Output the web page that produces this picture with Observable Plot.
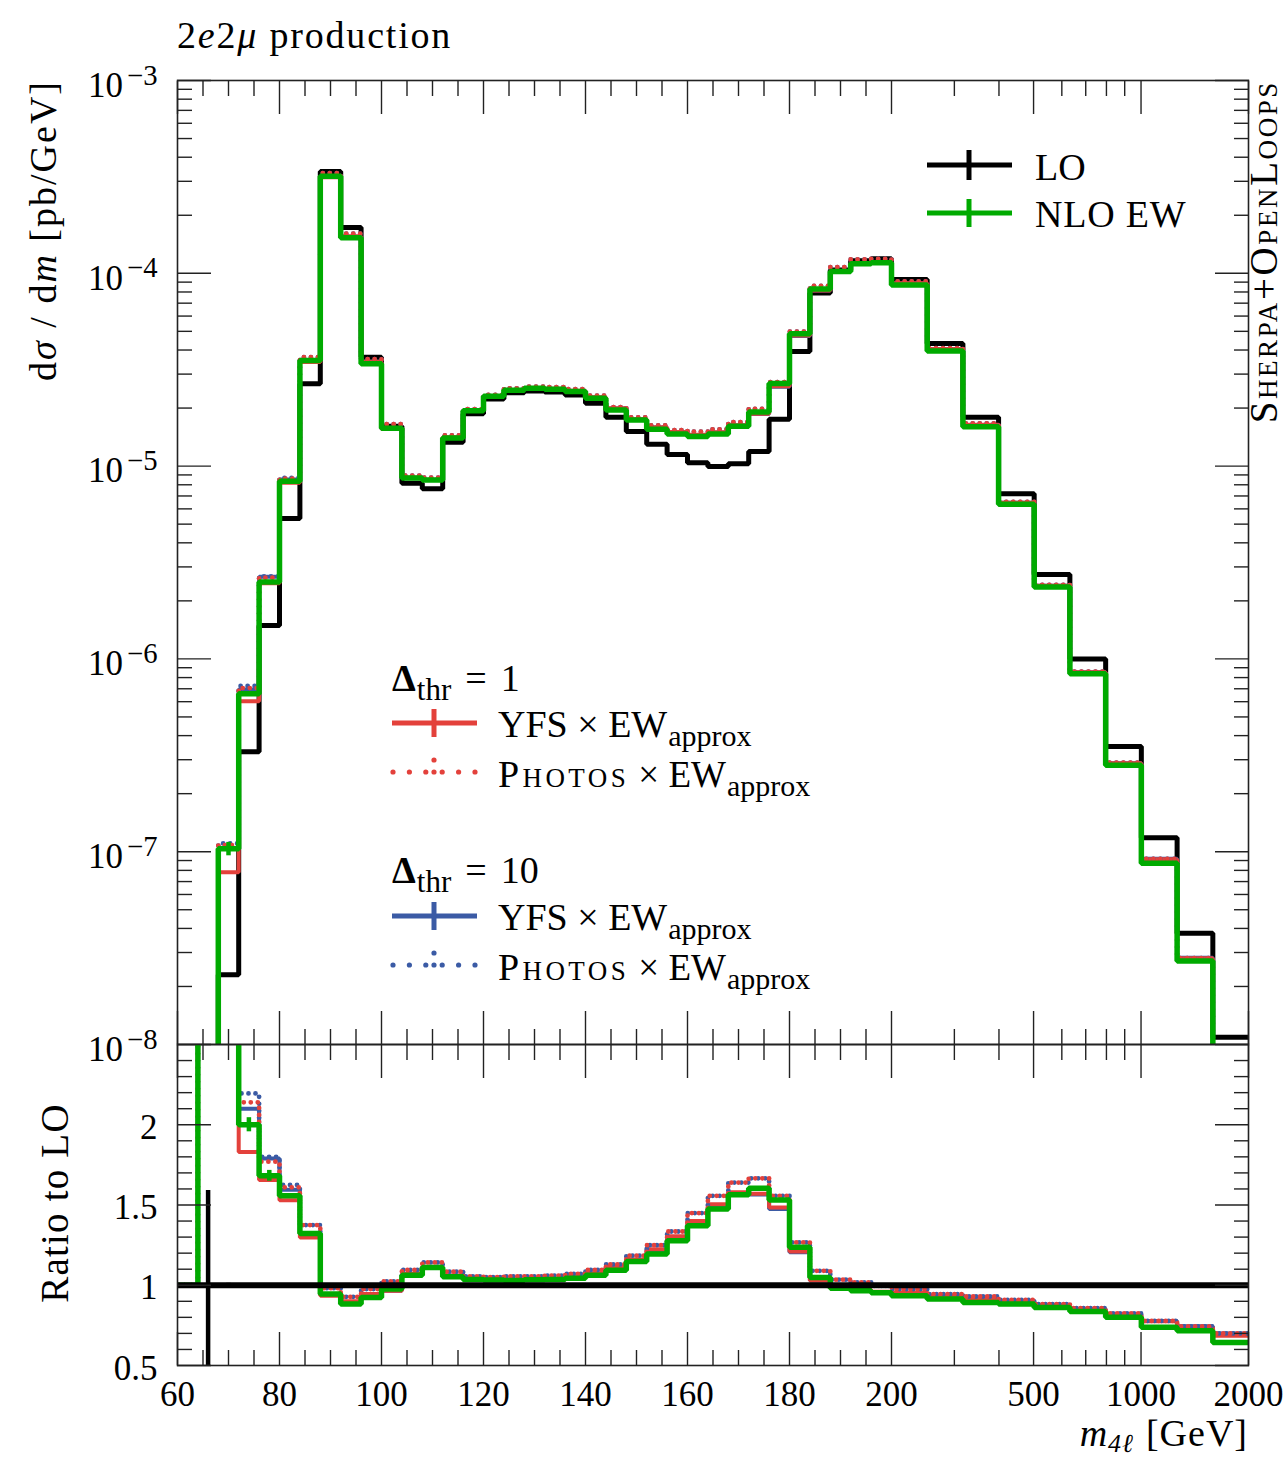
<!DOCTYPE html>
<html><head><meta charset="utf-8">
<script src="https://cdn.jsdelivr.net/npm/d3@7"></script>
<script src="https://cdn.jsdelivr.net/npm/@observablehq/plot@0.6"></script>
<style>
body{margin:0;background:#fff;}
#wrap{position:relative;width:1286px;height:1461px;font-family:"Liberation Serif",serif;color:#000;overflow:hidden;}
#wrap svg.pnl{position:absolute;left:0;}
#overlay{position:absolute;left:0;top:0;pointer-events:none;}
</style></head><body><div id="wrap"></div>
<script>
// ---------- data ----------
const binEdges = [60,64,68,72,76,80,84,88,92,96,100,104,108,112,116,120,124,128,132,136,140,144,148,152,156,160,164,168,172,176,180,184,188,192,196,200,251.8,317,399,502,632,796,1002,1262,1589,2000];
// LO dsigma/dm [pb/GeV] per bin
const loValues = [null,2e-9,2.3e-8,3.3e-7,1.49e-6,5.35e-6,2.67e-5,3.37e-4,1.73e-4,3.67e-5,1.61e-5,8.15e-6,7.62e-6,1.33e-5,1.87e-5,2.23e-5,2.40e-5,2.45e-5,2.42e-5,2.34e-5,2.12e-5,1.79e-5,1.51e-5,1.30e-5,1.15e-5,1.04e-5,9.96e-6,1.03e-5,1.19e-5,1.75e-5,3.93e-5,7.9e-5,1.04e-4,1.16e-4,1.19e-4,9.29e-5,4.33e-5,1.79e-5,7.18e-6,2.74e-6,1.0e-6,3.51e-7,1.18e-7,3.78e-8,1.09e-8];
// ratios to LO
const nloRatio = [1,4.0,4.5,2.0,1.682,1.558,1.323,0.945,0.883,0.924,0.976,1.063,1.111,1.053,1.036,1.032,1.030,1.034,1.036,1.043,1.062,1.093,1.148,1.194,1.277,1.371,1.475,1.564,1.605,1.531,1.236,1.049,0.982,0.966,0.954,0.935,0.914,0.893,0.883,0.862,0.837,0.80,0.738,0.717,0.644];
const yfs1Ratio = [1,3.5,3.4,1.83,1.655,1.53,1.298,0.935,0.90,0.945,0.966,1.07,1.115,1.06,1.04,1.035,1.035,1.038,1.04,1.05,1.075,1.115,1.16,1.225,1.305,1.40,1.505,1.58,1.57,1.485,1.21,1.03,0.985,0.972,0.96,0.955,0.935,0.915,0.90,0.875,0.852,0.82,0.775,0.74,0.685];
const photos1Ratio = [1,4.0,4.7,2.14,1.77,1.61,1.375,0.982,0.928,0.976,1.024,1.095,1.142,1.084,1.055,1.05,1.055,1.055,1.06,1.07,1.095,1.13,1.184,1.25,1.335,1.45,1.557,1.64,1.666,1.557,1.267,1.09,1.035,1.018,0.997,0.976,0.945,0.93,0.908,0.883,0.858,0.824,0.778,0.743,0.70];
const yfs10Ratio = [1,4.0,4.5,2.10,1.79,1.595,1.32,0.94,0.895,0.94,0.966,1.065,1.11,1.055,1.038,1.033,1.032,1.035,1.038,1.047,1.07,1.11,1.155,1.22,1.30,1.395,1.50,1.575,1.566,1.475,1.205,1.03,0.984,0.97,0.958,0.952,0.932,0.912,0.898,0.874,0.852,0.82,0.778,0.745,0.70];
const photos10Ratio = [1,4.0,4.8,2.195,1.80,1.625,1.375,0.982,0.928,0.976,1.024,1.095,1.142,1.084,1.055,1.05,1.055,1.055,1.06,1.07,1.095,1.13,1.184,1.25,1.335,1.45,1.557,1.64,1.666,1.557,1.267,1.09,1.035,1.018,0.997,0.976,0.945,0.93,0.908,0.883,0.858,0.824,0.778,0.743,0.70];
// relative statistical uncertainties
const loRelErr  = [0,0.59,0.012,0,0,0,0,0,0,0,0,0,0,0,0,0,0,0,0,0,0,0,0,0,0,0,0,0,0,0,0,0,0,0,0,0,0,0,0,0,0,0,0,0,0];
const nloRelErr = [0,0,0.08,0.022,0.02,0,0,0,0,0,0,0,0,0,0,0,0,0,0,0,0,0,0,0,0,0,0,0,0,0,0,0,0,0,0,0,0,0,0,0,0,0,0,0,0];
// axis ticks
const xMajorTicks = [60,80,100,120,140,160,180,200,500,1000,2000];
const xTickLabels = ["60","80","100","120","140","160","180","200","500","1000","2000"];
const xMinorTicks = [65,70,75,85,90,95,105,110,115,125,130,135,145,150,155,165,170,175,185,190,195,300,400,600,700,800,900];
const yMainMajor = [1e-8,1e-7,1e-6,1e-5,1e-4,1e-3];
const yMainLabels = ["10^−8","10^−7","10^−6","10^−5","10^−4","10^−3"];
const yMainMinor = [2e-8,3e-8,4e-8,5e-8,6e-8,7e-8,8e-8,9e-8,2e-7,3e-7,4e-7,5e-7,6e-7,7e-7,8e-7,9e-7,2e-6,3e-6,4e-6,5e-6,6e-6,7e-6,8e-6,9e-6,2e-5,3e-5,4e-5,5e-5,6e-5,7e-5,8e-5,9e-5,2e-4,3e-4,4e-4,5e-4,6e-4,7e-4,8e-4,9e-4];
const yRatioMajor = [0.5,1,1.5,2];
const yRatioLabels = ["0.5","1","1.5","2"];
const yRatioMinor = [0.6,0.7,0.8,0.9,1.1,1.2,1.3,1.4,1.6,1.7,1.8,1.9,2.1,2.2,2.3,2.4];

// ---------- helpers ----------
const BLACK="#000", GREEN="#00aa00", RED="#e3413b", BLUE="#3b5ba5";
const FONT = "'Liberation Serif', 'DejaVu Serif', serif";
// piecewise axis: linear 60-200, log 200-2000
const u = m => m <= 200 ? m : 200 + 70*Math.log10(m/200);
const W = 1286, L = 177, R = 1248;

function steps(vals, key) {
  const pts = [];
  vals.forEach((v, i) => {
    if (v == null) { pts.push({key, x: NaN, y: NaN}); return; }
    pts.push({key, x: u(binEdges[i]), y: v}, {key, x: u(binEdges[i+1]), y: v});
  });
  return pts;
}
const center = i => (u(binEdges[i]) + u(binEdges[i+1])) / 2;

const seriesDefs = [
  {key:"YFS10", ratio: yfs10Ratio, color: BLUE, width: 4, dash: null},
  {key:"YFS1", ratio: yfs1Ratio, color: RED, width: 4, dash: null},
  {key:"PH10", ratio: photos10Ratio, color: BLUE, width: 4.8, dash: "0 7"},
  {key:"PH1", ratio: photos1Ratio, color: RED, width: 4.8, dash: "0 7"},
  {key:"NLO", ratio: nloRatio, color: GREEN, width: 5.5, dash: null}
];

function lineMark(data, s) {
  const o = {x:"x", y:"y", stroke: s.color, strokeWidth: s.width, clip: true};
  if (s.dash) { o.strokeDasharray = s.dash; o.strokeLinecap = "round"; }
  else { o.strokeLinejoin = "miter"; o.strokeLinecap = "butt"; }
  return Plot.line(data, o);
}

function tickMarks(yMaj, yMin) {
  const st = {stroke: "#222", strokeWidth: 1.4, tickFormat: () => "", label: null};
  const xMaj = xMajorTicks.map(u), xMin = xMinorTicks.map(u);
  return [
    Plot.axisX({...st, anchor: "top", ticks: xMaj, tickSize: -33}),
    Plot.axisX({...st, anchor: "top", ticks: xMin, tickSize: -15}),
    Plot.axisX({...st, anchor: "bottom", ticks: xMaj, tickSize: -33}),
    Plot.axisX({...st, anchor: "bottom", ticks: xMin, tickSize: -15}),
    Plot.axisY({...st, anchor: "left", ticks: yMaj, tickSize: -34}),
    Plot.axisY({...st, anchor: "left", ticks: yMin, tickSize: -15}),
    Plot.axisY({...st, anchor: "right", ticks: yMaj, tickSize: -34}),
    Plot.axisY({...st, anchor: "right", ticks: yMin, tickSize: -15})
  ];
}

const wrap = document.getElementById("wrap");

// ---------- main panel ----------
const mainMarks = [];
mainMarks.push(lineMark(steps(loValues, "LO"), {color: BLACK, width: 5}));
for (const s of seriesDefs) {
  const vals = loValues.map((v, i) => v == null ? null : v * s.ratio[i]);
  mainMarks.push(lineMark(steps(vals, s.key), s));
}
const mainErr = [];
loValues.forEach((v, i) => {
  if (v == null) return;
  if (loRelErr[i] > 0) mainErr.push({x: center(i), y1: v*(1-loRelErr[i]), y2: v*(1+loRelErr[i]), c: BLACK});
  if (nloRelErr[i] > 0) { const n = v*nloRatio[i]; mainErr.push({x: center(i), y1: n*(1-nloRelErr[i]), y2: n*(1+nloRelErr[i]), c: GREEN}); }
});
mainMarks.push(Plot.ruleX(mainErr, {x: "x", y1: "y1", y2: "y2", stroke: "c", strokeWidth: 4.5, clip: true}));
const yMainFmt = new Map(yMainMajor.map((v, i) => [v, yMainLabels[i]]));
mainMarks.push(...tickMarks(yMainMajor, yMainMinor));
mainMarks.push(Plot.axisY({anchor: "left", ticks: yMainMajor, tickSize: 0, tickPadding: 20, tickFormat: d => yMainFmt.get(d), fontSize: 35, dy: 5, label: null}));
mainMarks.push(Plot.frame({stroke: "#222", strokeWidth: 1.6}));

const main = Plot.plot({
  width: W, height: 1044, marginLeft: L, marginRight: W - R, marginTop: 80, marginBottom: 0,
  x: {domain: [60, 270], axis: null},
  y: {type: "log", domain: [1e-8, 1e-3], axis: null},
  color: {type: "identity"},
  style: {fontFamily: FONT, fontSize: "34px", color: "#000", background: "transparent", overflow: "visible"},
  marks: mainMarks
});
main.classList.add("pnl"); main.style.top = "0px";
wrap.appendChild(main);
// superscripts on the log tick labels
const NS = "http://www.w3.org/2000/svg";
main.querySelectorAll('g[aria-label="y-axis tick label"] text').forEach(t => {
  const [b, e] = t.textContent.split("^");
  if (e === undefined) return;
  t.textContent = "";
  const t1 = document.createElementNS(NS, "tspan"); t1.textContent = b;
  const t2 = document.createElementNS(NS, "tspan"); t2.textContent = e;
  t2.setAttribute("dy", "-0.42em"); t2.setAttribute("dx", "4"); t2.setAttribute("font-size", "0.82em");
  t.append(t1, t2);
});

// ---------- ratio panel ----------
const ratioMarks = [];
for (const s of seriesDefs) ratioMarks.push(lineMark(steps(s.ratio, s.key), s));
ratioMarks.push(Plot.ruleY([1], {stroke: BLACK, strokeWidth: 6}));
const ratioErr = [];
loValues.forEach((v, i) => {
  if (loRelErr[i] > 0) ratioErr.push({x: center(i), y1: 1 - loRelErr[i], y2: 1 + loRelErr[i], c: BLACK});
  if (nloRelErr[i] > 0) ratioErr.push({x: center(i), y1: nloRatio[i]*(1-nloRelErr[i]), y2: nloRatio[i]*(1+nloRelErr[i]), c: GREEN});
});
ratioMarks.push(Plot.ruleX(ratioErr, {x: "x", y1: "y1", y2: "y2", stroke: "c", strokeWidth: 4.5, clip: true}));
const yRatioFmt = new Map(yRatioMajor.map((v, i) => [v, yRatioLabels[i]]));
const xFmt = new Map(xMajorTicks.map((v, i) => [u(v), xTickLabels[i]]));
ratioMarks.push(...tickMarks(yRatioMajor, yRatioMinor));
ratioMarks.push(Plot.axisY({anchor: "left", ticks: yRatioMajor, tickSize: 0, tickPadding: 20, tickFormat: d => yRatioFmt.get(d), fontSize: 35, dy: 3, label: null}));
ratioMarks.push(Plot.axisX({anchor: "bottom", ticks: xMajorTicks.map(u), tickSize: 0, tickPadding: 16, tickFormat: d => xFmt.get(d), fontSize: 35, label: null}));
ratioMarks.push(Plot.frame({stroke: "#222", strokeWidth: 1.6}));

const ratio = Plot.plot({
  width: W, height: 437, marginLeft: L, marginRight: W - R, marginTop: 20, marginBottom: 96,
  x: {domain: [60, 270], axis: null},
  y: {domain: [0.5, 2.5], axis: null},
  color: {type: "identity"},
  style: {fontFamily: FONT, fontSize: "34px", color: "#000", background: "transparent", overflow: "visible"},
  marks: ratioMarks
});
ratio.classList.add("pnl"); ratio.style.top = "1024px";
wrap.appendChild(ratio);

// ---------- labels and legends (overlay) ----------
const ov = `
<svg id="overlay" width="1286" height="1461" xmlns="${NS}" font-family="${FONT.replace(/'/g, "")}" fill="#000">
  <text x="177" y="48" font-size="38" letter-spacing="1.8">2<tspan font-style="italic">e</tspan>2<tspan font-style="italic">μ</tspan> production</text>
  <text transform="translate(56,80) rotate(-90)" text-anchor="end" font-size="38" letter-spacing="2">d<tspan font-style="italic">σ</tspan> / d<tspan font-style="italic">m</tspan> [pb/GeV]</text>
  <text transform="translate(68,1203) rotate(-90)" text-anchor="middle" font-size="39" letter-spacing="1.2">Ratio to LO</text>
  <text x="1248" y="1446" text-anchor="end" font-size="38" letter-spacing="1"><tspan font-style="italic">m</tspan><tspan font-size="26" dy="6" font-style="italic">4ℓ</tspan><tspan dy="-6" dx="12">[GeV]</tspan></text>
  <text transform="translate(1277,80) rotate(-90)" text-anchor="end" font-size="39" letter-spacing="2.6" style="font-variant:small-caps">Sherpa+OpenLoops</text>

  <line x1="927" x2="1012" y1="165" y2="165" stroke="${BLACK}" stroke-width="5"/>
  <line x1="969" x2="969" y1="150" y2="180" stroke="${BLACK}" stroke-width="5"/>
  <text x="1035" y="180" font-size="38">LO</text>
  <line x1="927" x2="1012" y1="213" y2="213" stroke="${GREEN}" stroke-width="5"/>
  <line x1="969" x2="969" y1="199" y2="227" stroke="${GREEN}" stroke-width="5"/>
  <text x="1035" y="227" font-size="38" letter-spacing="0.8">NLO EW</text>

  <text x="392" y="691" font-size="38"><tspan font-weight="bold">Δ</tspan><tspan font-size="31" dy="9" dx="1">thr</tspan><tspan dy="-9" dx="14">=</tspan><tspan dx="14">1</tspan></text>
  <line x1="392" x2="477" y1="723" y2="723" stroke="${RED}" stroke-width="5"/>
  <line x1="434" x2="434" y1="709" y2="737" stroke="${RED}" stroke-width="5"/>
  <text x="498" y="737" font-size="38">YFS × EW<tspan font-size="30" dy="9" dx="1">approx</tspan></text>
  <line x1="393" x2="475" y1="772" y2="772" stroke="${RED}" stroke-width="5.2" stroke-linecap="round" stroke-dasharray="0 16.4"/>
  <line x1="434" x2="434" y1="760" y2="784" stroke="${RED}" stroke-width="5.2" stroke-linecap="round" stroke-dasharray="0 12"/>
  <text x="498" y="787" font-size="37"><tspan style="font-variant:small-caps" letter-spacing="3.4" font-size="38">Photos</tspan> × EW<tspan font-size="30" dy="9" dx="1">approx</tspan></text>

  <text x="392" y="883" font-size="38"><tspan font-weight="bold">Δ</tspan><tspan font-size="31" dy="9" dx="1">thr</tspan><tspan dy="-9" dx="14">=</tspan><tspan dx="14">10</tspan></text>
  <line x1="392" x2="477" y1="916" y2="916" stroke="${BLUE}" stroke-width="5"/>
  <line x1="434" x2="434" y1="902" y2="930" stroke="${BLUE}" stroke-width="5"/>
  <text x="498" y="930" font-size="38">YFS × EW<tspan font-size="30" dy="9" dx="1">approx</tspan></text>
  <line x1="393" x2="475" y1="965" y2="965" stroke="${BLUE}" stroke-width="5.2" stroke-linecap="round" stroke-dasharray="0 16.4"/>
  <line x1="434" x2="434" y1="953" y2="977" stroke="${BLUE}" stroke-width="5.2" stroke-linecap="round" stroke-dasharray="0 12"/>
  <text x="498" y="980" font-size="37"><tspan style="font-variant:small-caps" letter-spacing="3.4" font-size="38">Photos</tspan> × EW<tspan font-size="30" dy="9" dx="1">approx</tspan></text>
</svg>`;
wrap.insertAdjacentHTML("beforeend", ov);
</script>
</body></html>
